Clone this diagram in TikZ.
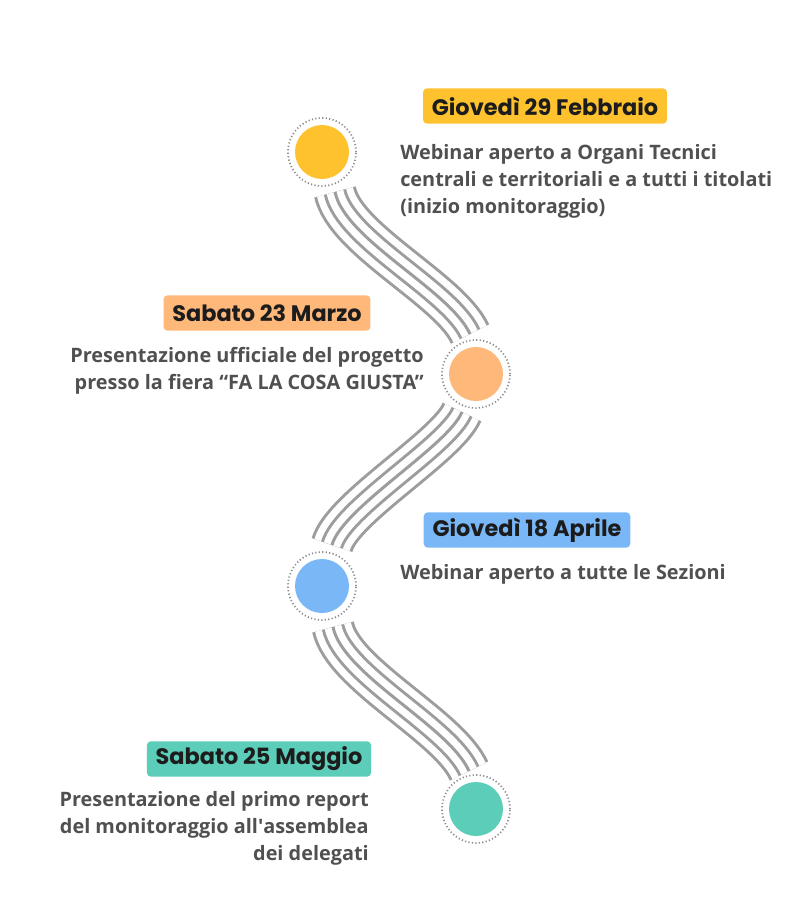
\documentclass[tikz,border=0pt]{standalone}
\usepackage{fontspec}
\setmainfont{Open Sans}[Ligatures={NoCommon}]
\newfontfamily\titlefont{Poppins}
\definecolor{cyel}{HTML}{FEC22F}
\definecolor{cora}{HTML}{FDB87A}
\definecolor{cblu}{HTML}{7AB7F6}
\definecolor{ctea}{HTML}{5BCDB9}
\definecolor{wline}{HTML}{9C9D9F}
\definecolor{ring}{HTML}{8E8E92}
\definecolor{bodytxt}{HTML}{505050}
\definecolor{titletxt}{HTML}{1C1C1C}
\tikzset{
  dot/.style={circle, inner sep=0pt, minimum size=40.5pt},
  ringc/.style={circle, draw=ring, line width=1.3pt, dash pattern=on 0.9pt off 1.7pt, minimum size=51pt, inner sep=0pt},
  datebox/.style={rounded corners=3pt, inner xsep=6.6pt, minimum height=26.5pt, text=titletxt, font=\titlefont\bfseries\fontsize{16.8}{18}\selectfont},
  bodyl/.style={inner sep=0pt, text=bodytxt, align=left, font=\bfseries\fontsize{14.9}{20.25}\selectfont},
  bodyr/.style={inner sep=0pt, text=bodytxt, align=right, font=\bfseries\fontsize{14.9}{20.25}\selectfont},
  gA/.style={draw=wline, line width=32.25pt},
  wA/.style={draw=white, line width=27.75pt},
  gB/.style={draw=wline, line width=17.25pt},
  wB/.style={draw=white, line width=12.75pt},
  gC/.style={draw=wline, line width=2.25pt},
}
\newcommand\wavebundle[4]{%
  \path[gA] (#1) .. controls (#2) and (#3) .. (#4);
  \path[wA] (#1) .. controls (#2) and (#3) .. (#4);
  \path[gB] (#1) .. controls (#2) and (#3) .. (#4);
  \path[wB] (#1) .. controls (#2) and (#3) .. (#4);
  \path[gC] (#1) .. controls (#2) and (#3) .. (#4);
}
\begin{document}
\begin{tikzpicture}[x=0.75pt,y=-0.75pt]
\useasboundingbox (0,0) rectangle (800,910);
% bundle coordinates
\coordinate (a1) at (335,192); \coordinate (a2) at (345,240); \coordinate (a3) at (450,290); \coordinate (a4) at (470,334);
\coordinate (b1) at (462,412); \coordinate (b2) at (448,446); \coordinate (b3) at (342,508); \coordinate (b4) at (332,545);
\coordinate (c1) at (333,627); \coordinate (c2) at (343,675); \coordinate (c3) at (449,726); \coordinate (c4) at (469,771);
\wavebundle{a1}{a2}{a3}{a4}
\wavebundle{b1}{b2}{b3}{b4}
\wavebundle{c1}{c2}{c3}{c4}
% circles
\node[dot, fill=cyel] (n1) at (322,152) {};
\node[ringc] (r1) at (n1) {};
\node[dot, fill=cora] (n2) at (476,374) {};
\node[ringc] (r2) at (n2) {};
\node[dot, fill=cblu] (n3) at (322,586) {};
\node[ringc] (r3) at (n3) {};
\node[dot, fill=ctea] (n4) at (476,809) {};
\node[ringc] (r4) at (n4) {};
% labels
\node[datebox, fill=cyel] (d1) at (545,106) {Giovedì 29 Febbraio};
\node[bodyl, anchor=north west] (t1) at (400,144) {Webinar aperto a Organi Tecnici\\centrali e territoriali e a tutti i titolati\\(inizio monitoraggio)};
\node[datebox, fill=cora] (d2) at (267,313) {Sabato 23 Marzo};
\node[bodyr, anchor=north east] (t2) at (424,347) {Presentazione ufficiale del progetto\\presso la fiera “FA LA COSA GIUSTA”};
\node[datebox, fill=cblu] (d3) at (527,530) {Giovedì 18 Aprile};
\node[bodyl, anchor=north west] (t3) at (400,564) {Webinar aperto a tutte le Sezioni};
\node[datebox, fill=ctea] (d4) at (259,759) {Sabato 25 Maggio};
\node[bodyr, anchor=north east] (t4) at (369,791) {Presentazione del primo report\\del monitoraggio all\textquotesingle assemblea\\dei delegati};
\end{tikzpicture}
\end{document}
